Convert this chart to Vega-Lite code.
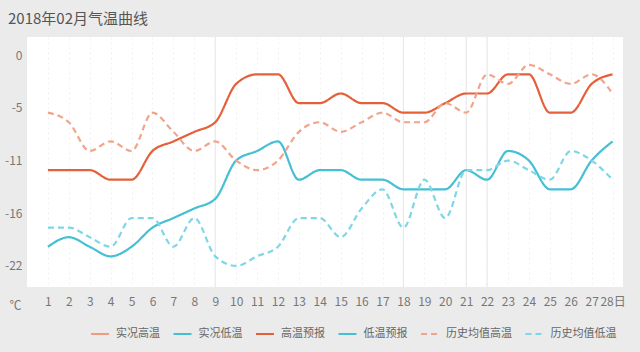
{
  "$schema": "https://vega.github.io/schema/vega-lite/v6.json",
  "width": 596,
  "height": 250,
  "autosize": {"type": "none"},
  "padding": {"left": 27, "top": 37, "right": 17, "bottom": 65},
  "background": "#ebebeb",
  "config": {"view": {"fill": "white", "stroke": null}, "font": "Noto Sans CJK SC"},
  "title": {"text": "2018年02月气温曲线", "anchor": "start", "frame": "group", "dx": -19, "offset": 10, "fontSize": 15, "fontWeight": "normal", "color": "#555555"},
  "datasets": {
    "guides": [{"day": 9}, {"day": 18}, {"day": 21}, {"day": 22}],
    "temps": [
      {"day": 1, "series": "高温预报", "temp": -12}, {"day": 2, "series": "高温预报", "temp": -12}, {"day": 3, "series": "高温预报", "temp": -12}, {"day": 4, "series": "高温预报", "temp": -13}, {"day": 5, "series": "高温预报", "temp": -13}, {"day": 6, "series": "高温预报", "temp": -10}, {"day": 7, "series": "高温预报", "temp": -9}, {"day": 8, "series": "高温预报", "temp": -8}, {"day": 9, "series": "高温预报", "temp": -7}, {"day": 10, "series": "高温预报", "temp": -3}, {"day": 11, "series": "高温预报", "temp": -2}, {"day": 12, "series": "高温预报", "temp": -2}, {"day": 13, "series": "高温预报", "temp": -5}, {"day": 14, "series": "高温预报", "temp": -5}, {"day": 15, "series": "高温预报", "temp": -4}, {"day": 16, "series": "高温预报", "temp": -5}, {"day": 17, "series": "高温预报", "temp": -5}, {"day": 18, "series": "高温预报", "temp": -6}, {"day": 19, "series": "高温预报", "temp": -6}, {"day": 20, "series": "高温预报", "temp": -5}, {"day": 21, "series": "高温预报", "temp": -4}, {"day": 22, "series": "高温预报", "temp": -4}, {"day": 23, "series": "高温预报", "temp": -2}, {"day": 24, "series": "高温预报", "temp": -2}, {"day": 25, "series": "高温预报", "temp": -6}, {"day": 26, "series": "高温预报", "temp": -6}, {"day": 27, "series": "高温预报", "temp": -3}, {"day": 28, "series": "高温预报", "temp": -2},
      {"day": 1, "series": "低温预报", "temp": -20}, {"day": 2, "series": "低温预报", "temp": -19}, {"day": 3, "series": "低温预报", "temp": -20}, {"day": 4, "series": "低温预报", "temp": -21}, {"day": 5, "series": "低温预报", "temp": -20}, {"day": 6, "series": "低温预报", "temp": -18}, {"day": 7, "series": "低温预报", "temp": -17}, {"day": 8, "series": "低温预报", "temp": -16}, {"day": 9, "series": "低温预报", "temp": -15}, {"day": 10, "series": "低温预报", "temp": -11}, {"day": 11, "series": "低温预报", "temp": -10}, {"day": 12, "series": "低温预报", "temp": -9}, {"day": 13, "series": "低温预报", "temp": -13}, {"day": 14, "series": "低温预报", "temp": -12}, {"day": 15, "series": "低温预报", "temp": -12}, {"day": 16, "series": "低温预报", "temp": -13}, {"day": 17, "series": "低温预报", "temp": -13}, {"day": 18, "series": "低温预报", "temp": -14}, {"day": 19, "series": "低温预报", "temp": -14}, {"day": 20, "series": "低温预报", "temp": -14}, {"day": 21, "series": "低温预报", "temp": -12}, {"day": 22, "series": "低温预报", "temp": -13}, {"day": 23, "series": "低温预报", "temp": -10}, {"day": 24, "series": "低温预报", "temp": -11}, {"day": 25, "series": "低温预报", "temp": -14}, {"day": 26, "series": "低温预报", "temp": -14}, {"day": 27, "series": "低温预报", "temp": -11}, {"day": 28, "series": "低温预报", "temp": -9},
      {"day": 1, "series": "历史均值高温", "temp": -6}, {"day": 2, "series": "历史均值高温", "temp": -7}, {"day": 3, "series": "历史均值高温", "temp": -10}, {"day": 4, "series": "历史均值高温", "temp": -9}, {"day": 5, "series": "历史均值高温", "temp": -10}, {"day": 6, "series": "历史均值高温", "temp": -6}, {"day": 7, "series": "历史均值高温", "temp": -8}, {"day": 8, "series": "历史均值高温", "temp": -10}, {"day": 9, "series": "历史均值高温", "temp": -9}, {"day": 10, "series": "历史均值高温", "temp": -11}, {"day": 11, "series": "历史均值高温", "temp": -12}, {"day": 12, "series": "历史均值高温", "temp": -11}, {"day": 13, "series": "历史均值高温", "temp": -8}, {"day": 14, "series": "历史均值高温", "temp": -7}, {"day": 15, "series": "历史均值高温", "temp": -8}, {"day": 16, "series": "历史均值高温", "temp": -7}, {"day": 17, "series": "历史均值高温", "temp": -6}, {"day": 18, "series": "历史均值高温", "temp": -7}, {"day": 19, "series": "历史均值高温", "temp": -7}, {"day": 20, "series": "历史均值高温", "temp": -5}, {"day": 21, "series": "历史均值高温", "temp": -6}, {"day": 22, "series": "历史均值高温", "temp": -2}, {"day": 23, "series": "历史均值高温", "temp": -3}, {"day": 24, "series": "历史均值高温", "temp": -1}, {"day": 25, "series": "历史均值高温", "temp": -2}, {"day": 26, "series": "历史均值高温", "temp": -3}, {"day": 27, "series": "历史均值高温", "temp": -2}, {"day": 28, "series": "历史均值高温", "temp": -4},
      {"day": 1, "series": "历史均值低温", "temp": -18}, {"day": 2, "series": "历史均值低温", "temp": -18}, {"day": 3, "series": "历史均值低温", "temp": -19}, {"day": 4, "series": "历史均值低温", "temp": -20}, {"day": 5, "series": "历史均值低温", "temp": -17}, {"day": 6, "series": "历史均值低温", "temp": -17}, {"day": 7, "series": "历史均值低温", "temp": -20}, {"day": 8, "series": "历史均值低温", "temp": -17}, {"day": 9, "series": "历史均值低温", "temp": -21}, {"day": 10, "series": "历史均值低温", "temp": -22}, {"day": 11, "series": "历史均值低温", "temp": -21}, {"day": 12, "series": "历史均值低温", "temp": -20}, {"day": 13, "series": "历史均值低温", "temp": -17}, {"day": 14, "series": "历史均值低温", "temp": -17}, {"day": 15, "series": "历史均值低温", "temp": -19}, {"day": 16, "series": "历史均值低温", "temp": -16}, {"day": 17, "series": "历史均值低温", "temp": -14}, {"day": 18, "series": "历史均值低温", "temp": -18}, {"day": 19, "series": "历史均值低温", "temp": -13}, {"day": 20, "series": "历史均值低温", "temp": -17}, {"day": 21, "series": "历史均值低温", "temp": -12}, {"day": 22, "series": "历史均值低温", "temp": -12}, {"day": 23, "series": "历史均值低温", "temp": -11}, {"day": 24, "series": "历史均值低温", "temp": -12}, {"day": 25, "series": "历史均值低温", "temp": -13}, {"day": 26, "series": "历史均值低温", "temp": -10}, {"day": 27, "series": "历史均值低温", "temp": -11}, {"day": 28, "series": "历史均值低温", "temp": -13}
    ]
  },
  "encoding": {
    "x": {
      "field": "day", "type": "quantitative",
      "scale": {"domain": [0, 28.5], "nice": false, "zero": false},
      "axis": {
        "values": [1,2,3,4,5,6,7,8,9,10,11,12,13,14,15,16,17,18,19,20,21,22,23,24,25,26,27,28],
        "labelExpr": "datum.value == 28 ? '\u300028日' : '' + datum.value",
        "title": null, "grid": true, "gridColor": "#f1f1f1", "gridDash": [2, 3],
        "domain": false, "ticks": false, "labelPadding": 9, "labelFontSize": 12, "labelColor": "#777777", "labelFlush": false, "labelOverlap": false
      }
    }
  },
  "layer": [
    {
      "data": {"name": "guides"},
      "mark": {"type": "rule", "color": "#e6e6e6", "strokeWidth": 1},
      "encoding": {}
    },
    {
      "data": {"name": "temps"},
      "mark": {"type": "line", "interpolate": "monotone", "strokeWidth": 2.2},
      "encoding": {
        "y": {
          "field": "temp", "type": "quantitative",
          "scale": {"domain": [-24.2, 1.9], "nice": false, "zero": false},
          "axis": {
            "values": [0, -5.5, -11, -16.5, -22],
            "labelExpr": "'' + round(datum.value)",
            "grid": false, "domain": false, "ticks": false, "labelPadding": 5, "labelFontSize": 12, "labelColor": "#777777",
            "title": "℃", "titleAngle": 0, "titleX": -12, "titleY": 268, "titleAlign": "center", "titleBaseline": "middle",
            "titleFontWeight": "normal", "titleFontSize": 12, "titleColor": "#777777"
          }
        },
        "color": {
          "field": "series", "type": "nominal",
          "scale": {
            "domain": ["实况高温", "实况低温", "高温预报", "低温预报", "历史均值高温", "历史均值低温"],
            "range": ["#f09b80", "#45bfd3", "#e5603a", "#45bfd3", "#f2a48a", "#7fd6e6"]
          },
          "legend": {
            "orient": "none", "legendX": 63, "legendY": 287, "direction": "horizontal", "title": null,
            "symbolType": "stroke", "symbolSize": 324, "symbolStrokeWidth": 2,
            "labelFontSize": 11, "labelColor": "#666666", "labelOffset": 6, "columnPadding": 9.5
          }
        },
        "strokeDash": {
          "field": "series", "type": "nominal",
          "scale": {
            "domain": ["实况高温", "实况低温", "高温预报", "低温预报", "历史均值高温", "历史均值低温"],
            "range": [[1, 0], [1, 0], [1, 0], [1, 0], [6, 4], [6, 4]]
          },
          "legend": {
            "orient": "none", "legendX": 63, "legendY": 287, "direction": "horizontal", "title": null,
            "symbolType": "stroke", "symbolSize": 324, "symbolStrokeWidth": 2,
            "labelFontSize": 11, "labelColor": "#666666", "labelOffset": 6, "columnPadding": 9.5
          }
        }
      }
    }
  ]
}
